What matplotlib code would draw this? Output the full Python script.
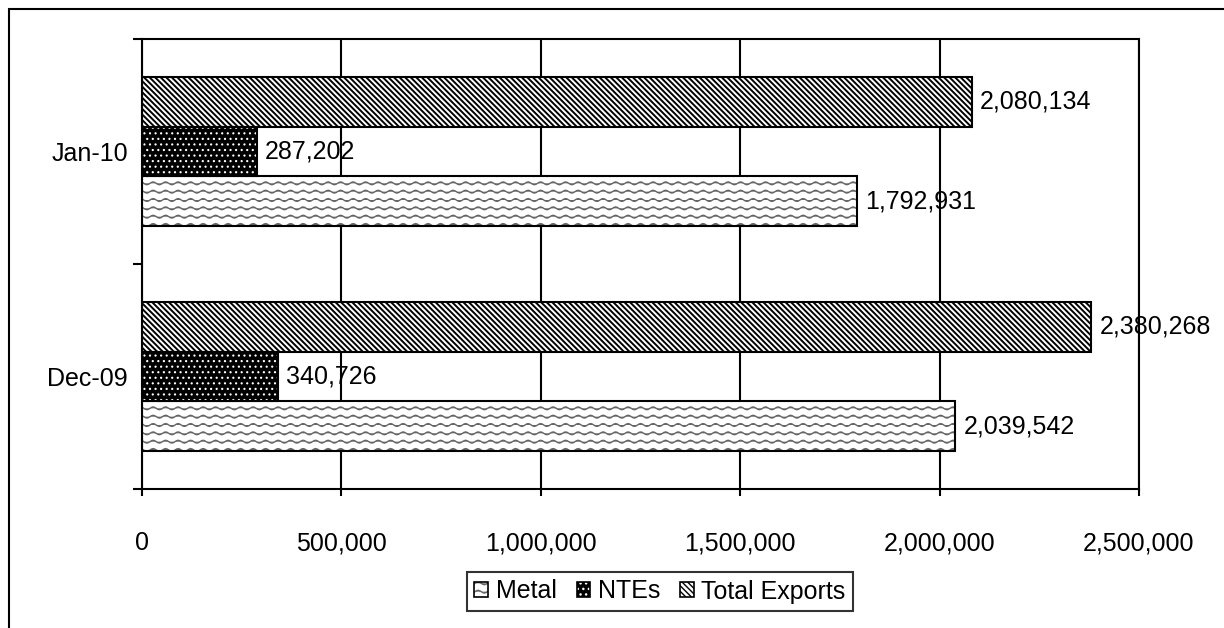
import warnings
import numpy as np
import matplotlib
matplotlib.use('Agg')
import matplotlib.pyplot as plt
from matplotlib import hatch as mhatch
from matplotlib.path import Path
from matplotlib.patches import Rectangle, Patch
from matplotlib.legend_handler import HandlerTuple

warnings.filterwarnings('ignore')

# data
months = ['Dec-09', 'Jan-10']
metal = [2039542, 1792931]
ntes = [340726, 287202]
total_exports = [2380268, 2080134]
series_names = ['Metal', 'NTEs', 'Total Exports']
x_ticks = [0, 500000, 1000000, 1500000, 2000000, 2500000]


# wavy hatch for the Metal bars ('~')
class WaveHatch(mhatch.HatchPatternBase):
    def __init__(self, hatch, density):
        self.rows = 12 if '~' in hatch else 0
        self.waves = 8
        self.pts = self.waves * 8 + 1
        self.num_vertices = (self.rows + 1) * self.pts if self.rows else 0

    def set_vertices_and_codes(self, vertices, codes):
        xs = np.linspace(0, 1, self.pts)
        wave = 0.014 * np.sin(2 * np.pi * self.waves * xs)
        for i in range(self.rows + 1):
            y0 = i / self.rows
            sl = slice(i * self.pts, (i + 1) * self.pts)
            vertices[sl, 0] = xs
            vertices[sl, 1] = y0 + wave
            codes[sl] = Path.LINETO
            codes[i * self.pts] = Path.MOVETO


mhatch._hatch_types.append(WaveHatch)

plt.rcParams['font.family'] = ['Liberation Sans', 'DejaVu Sans']
plt.rcParams['font.size'] = 18

fig = plt.figure(figsize=(12.24, 6.28), dpi=100)
ax = fig.add_axes([142 / 1224, 1 - 489 / 628, (1139 - 142) / 1224, (489 - 39) / 628])

y = np.arange(len(months))
h = 0.2222

WAVE = '~'
DOTS = '...'
DIAG = '\\' * 6


def hatched_bars(vals, offset, face, hatch, hcolor, hlw):
    bars = ax.barh(y + offset, vals, height=h, color=face, edgecolor=hcolor,
                   hatch=hatch, linewidth=0, zorder=2)
    for b in bars:
        if hasattr(b, 'set_hatch_linewidth'):
            b.set_hatch_linewidth(hlw)
    ax.barh(y + offset, vals, height=h, fill=False, edgecolor='black',
            linewidth=1.5, zorder=3)
    return bars


plt.rcParams['hatch.linewidth'] = 1.0
hatched_bars(metal, -h, 'white', WAVE, '#666666', 1.0)
hatched_bars(ntes, 0, 'black', DOTS, 'white', 0.8)
hatched_bars(total_exports, h, 'white', DIAG, 'black', 1.4)

for vals, off in [(metal, -h), (ntes, 0), (total_exports, h)]:
    for yi, v in zip(y, vals):
        ax.annotate(f'{v:,}', (v, yi + off), xytext=(6, 0), textcoords='offset points',
                    va='center', ha='left', annotation_clip=False, zorder=5)

ax.set_xlim(0, 2500000)
ax.set_ylim(-0.5, 1.5)
ax.set_xticks(x_ticks)
ax.set_xticklabels([f'{t:,}' for t in x_ticks], va='baseline')
ax.set_yticks([-0.5, 0.5, 1.5])
ax.set_yticklabels([])
ax.set_yticks(y, minor=True)
ax.set_yticklabels(months, minor=True)
ax.tick_params(axis='y', which='major', length=6.5, width=1.5, direction='out')
ax.tick_params(axis='y', which='minor', length=0, pad=10)
ax.tick_params(axis='x', length=5, width=1.5, direction='out', pad=39)
ax.grid(axis='x', color='black', linewidth=1.5, zorder=0)
ax.set_axisbelow(True)
for s in ax.spines.values():
    s.set_linewidth(1.5)

# legend
def legend_box(face, hcolor, hatch):
    return (Patch(facecolor=face, edgecolor=hcolor, hatch=hatch, linewidth=0),
            Patch(fill=False, edgecolor='black', linewidth=1.2))


handles = [
    legend_box('white', '#666666', WAVE),
    legend_box('black', 'white', DOTS),
    legend_box('white', 'black', DIAG),
]
leg = fig.legend(handles, series_names, loc='center', bbox_to_anchor=(660 / 1224, 1 - 591.5 / 628),
                 ncol=3, frameon=True, fancybox=False, edgecolor='black',
                 handler_map={tuple: HandlerTuple(ndivide=1, pad=0)},
                 handlelength=0.55, handleheight=0.55, handletextpad=0.3,
                 columnspacing=0.8, borderpad=0.3, borderaxespad=0)
leg.get_frame().set_linewidth(1.5)

# outer chart border (left and top edges visible)
fig.patches.append(Rectangle((9 / 1224, -0.2), 1.2, 1.2 - 9 / 628, transform=fig.transFigure,
                             fill=False, edgecolor='black', linewidth=1.5))

fig.savefig('out.png', dpi=100)
